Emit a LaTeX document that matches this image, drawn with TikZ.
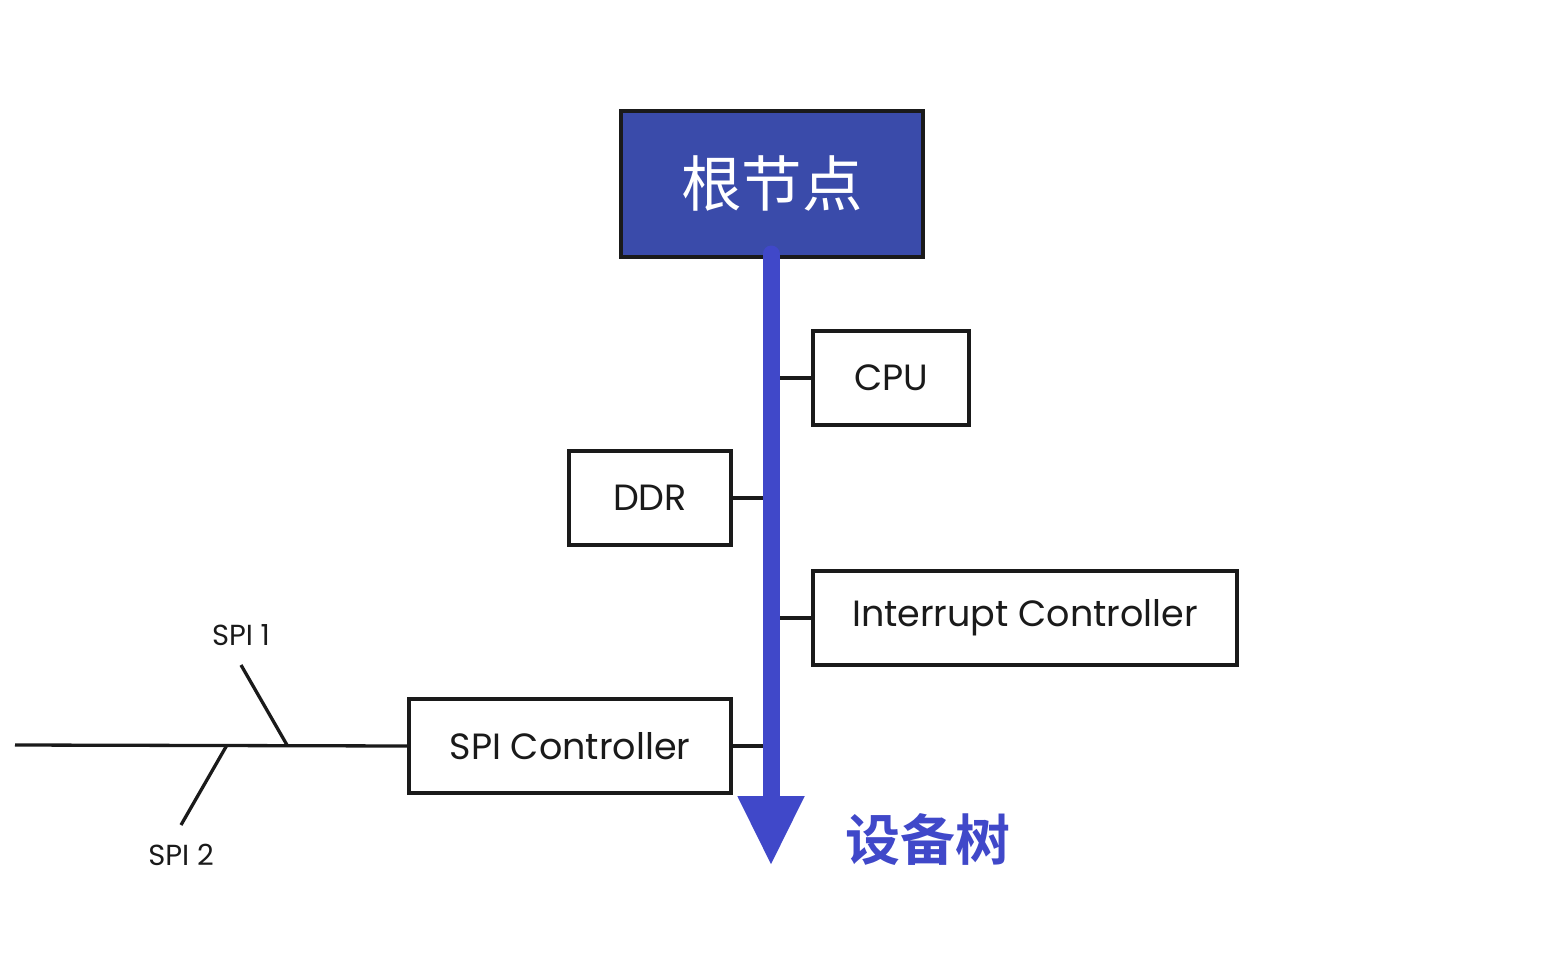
\documentclass[tikz,border=0pt]{standalone}
\usepackage{fontspec}
\setmainfont{Poppins}
\newfontfamily\cjk{Noto Sans CJK SC}
\newfontfamily\cjkbold{Noto Sans CJK SC Bold}
\usetikzlibrary{arrows.meta}
\definecolor{rootblue}{HTML}{3A4BAA}
\definecolor{barblue}{HTML}{4048C9}
\definecolor{ink}{HTML}{1A1A1A}
\tikzset{
  box/.style={draw=ink, line width=3.5pt, fill=white, inner sep=0pt, text=ink,
    font=\fontsize{36.5}{40}\selectfont},
  wire/.style={draw=ink, line width=3.3pt},
  lbl/.style={text=ink, font=\fontsize{29}{32}\selectfont, inner sep=0pt},
}
\begin{document}
\begin{tikzpicture}[x=1pt,y=-1pt]
\useasboundingbox (0,0) rectangle (1545,955);
% boxes
\node[box, minimum width=302pt, minimum height=146pt, fill=rootblue, text=white,
  font=\cjk\fontsize{60.5}{62}\selectfont] (root) at (772,184) {根节点};
\node[box, minimum width=156pt, minimum height=94pt] (cpu) at (891,378) {CPU};
\node[box, minimum width=162pt, minimum height=94pt] (ddr) at (650,498) {DDR};
\node[box, minimum width=424pt, minimum height=94pt] (irq) at (1025,618) {Interrupt Controller};
\node[box, minimum width=322pt, minimum height=94pt] (spi) at (570,746) {SPI Controller};
% bar coordinates
\coordinate (bartop) at (771,254);
\coordinate (barend) at (771,866);
% connectors to the bar
\draw[wire] (cpu.west) -- (cpu.west -| bartop);
\draw[wire] (ddr.east) -- (ddr.east -| bartop);
\draw[wire] (irq.west) -- (irq.west -| bartop);
\draw[wire] (spi.east) -- (spi.east -| bartop);
% bus
\coordinate (busleft) at (15,745);
\coordinate (j1) at (287,745);
\coordinate (j2) at (227,745);
\coordinate (s1end) at (241,665);
\coordinate (s2end) at (181,825);
\draw[wire] (spi.west) -- (busleft);
\draw[wire] (j1) -- (s1end);
\draw[wire] (j2) -- (s2end);
\node[lbl] (s1) at (241,635) {SPI 1};
\node[lbl] (s2) at (181,855) {SPI 2};
% main bar with arrow
\draw[barblue, line width=17pt, line cap=round,
  -{Triangle[width=62pt, length=70pt, line cap=butt]}] (bartop) -- (barend);
\node[text=barblue, font=\cjkbold\fontsize{55}{57}\selectfont, inner sep=0pt] (tree) at (928,840) {设备树};
\end{tikzpicture}
\end{document}
